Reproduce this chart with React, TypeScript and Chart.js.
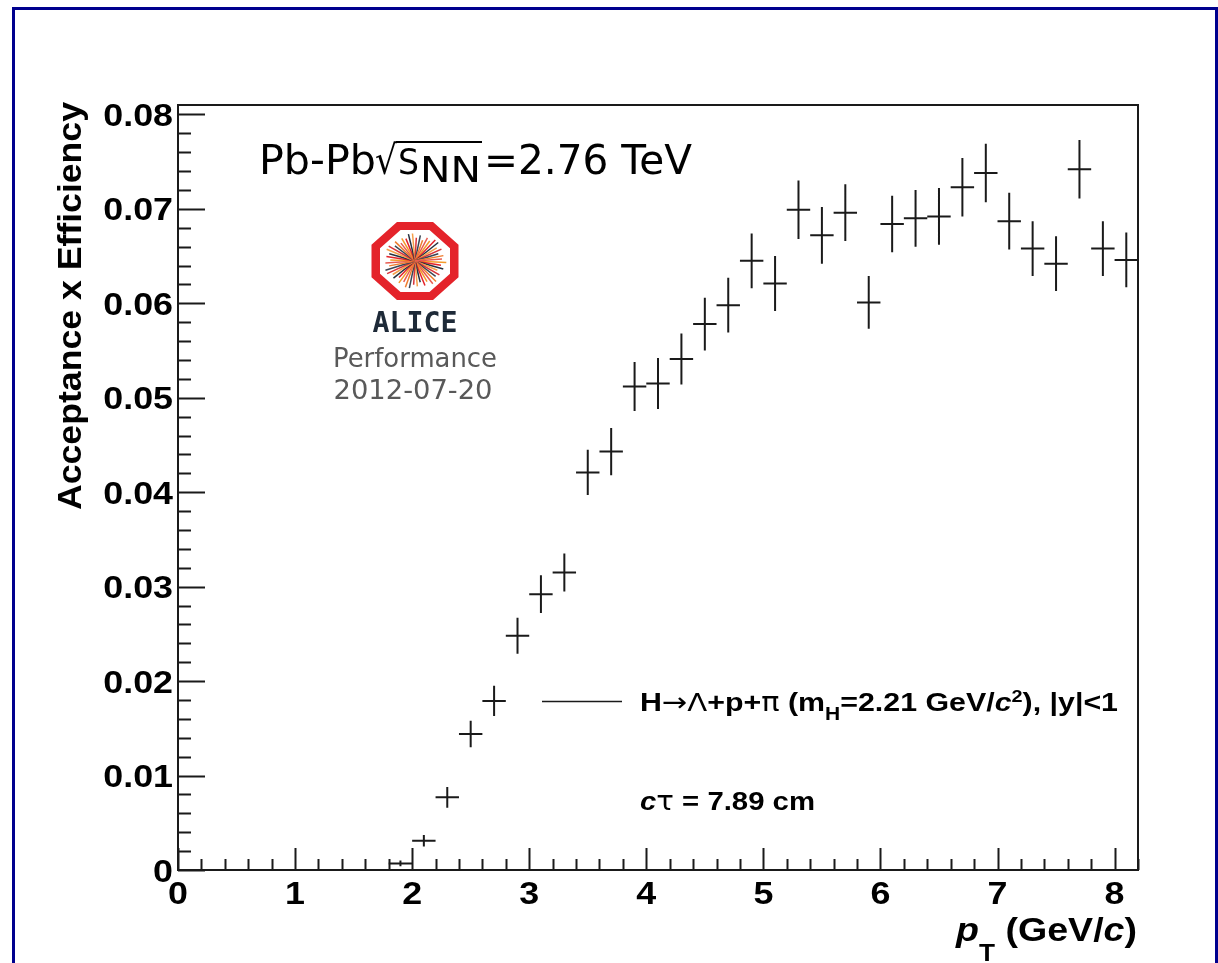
import React, { useEffect, useRef } from 'react';
import { Chart, registerables } from 'chart.js';

Chart.register(...registerables);

// ---------------- data ----------------
const ptCenters = [
  1.9, 2.1, 2.3, 2.5, 2.7, 2.9, 3.1, 3.3, 3.5, 3.7, 3.9, 4.1, 4.3, 4.5, 4.7, 4.9,
  5.1, 5.3, 5.5, 5.7, 5.9, 6.1, 6.3, 6.5, 6.7, 6.9, 7.1, 7.3, 7.5, 7.7, 7.9, 8.1,
];
const ptHalfWidths = [
  0.1, 0.1, 0.1, 0.1, 0.1, 0.1, 0.1, 0.1, 0.1, 0.1, 0.1, 0.1, 0.1, 0.1, 0.1, 0.1,
  0.1, 0.1, 0.1, 0.1, 0.1, 0.1, 0.1, 0.1, 0.1, 0.1, 0.1, 0.1, 0.1, 0.1, 0.1, 0.1,
];
const accEff = [
  0.0007, 0.0031, 0.0077, 0.0144, 0.0179, 0.0248, 0.0292, 0.0315, 0.0421, 0.0443,
  0.0512, 0.0515, 0.0541, 0.0578, 0.0598, 0.0645, 0.0621, 0.0699, 0.0672, 0.0696,
  0.0601, 0.0684, 0.069, 0.0692, 0.0723, 0.0738, 0.0687, 0.0658, 0.0642, 0.0742,
  0.0658, 0.0646,
];
const accEffErr = [
  0.0003, 0.0006, 0.0011, 0.0014, 0.0016, 0.0019, 0.002, 0.002, 0.0024, 0.0025,
  0.0026, 0.0027, 0.0027, 0.0028, 0.0029, 0.0029, 0.0029, 0.0031, 0.003, 0.003,
  0.0028, 0.003, 0.003, 0.003, 0.0031, 0.0031, 0.003, 0.0029, 0.0029, 0.0031,
  0.0029, 0.0029,
];
const xTickLabels = ['0', '1', '2', '3', '4', '5', '6', '7', '8'];
const yTickLabels = ['0', '0.01', '0.02', '0.03', '0.04', '0.05', '0.06', '0.07', '0.08'];
const xRange = [0, 8.2];
const yRange = [0, 0.081];
const xMinorStep = 0.2;
const yMinorStep = 0.002;

// ---------------- helpers ----------------
const SANS = '"Liberation Sans", Arial, Helvetica, sans-serif';
const DEJAVU = '"DejaVu Sans", "Noto Sans", sans-serif';

type Seg = { t: string; font: string; dy?: number; color?: string };

function drawRich(
  ctx: CanvasRenderingContext2D,
  segs: Seg[],
  x: number,
  y: number,
  opts: { align?: 'left' | 'right' | 'center'; width?: number; sx?: number; rotate?: number; color?: string } = {}
) {
  ctx.save();
  ctx.translate(x, y);
  if (opts.rotate) ctx.rotate(opts.rotate);
  let w = 0;
  const widths: number[] = [];
  for (const s of segs) {
    ctx.font = s.font;
    const m = ctx.measureText(s.t).width;
    widths.push(m);
    w += m;
  }
  const sx = opts.width ? opts.width / w : opts.sx ?? 1;
  ctx.scale(sx, 1);
  let cx = opts.align === 'right' ? -w : opts.align === 'center' ? -w / 2 : 0;
  ctx.textAlign = 'left';
  ctx.textBaseline = 'alphabetic';
  segs.forEach((s, i) => {
    ctx.font = s.font;
    ctx.fillStyle = s.color ?? opts.color ?? '#000';
    ctx.fillText(s.t, cx, s.dy ?? 0);
    cx += widths[i];
  });
  ctx.restore();
}

function drawLogo(ctx: CanvasRenderingContext2D, cx: number, cy: number) {
  const oct = (rx: number, ry: number) => {
    const pts: [number, number][] = [];
    for (let k = 0; k < 8; k++) {
      const a = Math.PI / 8 + (k * Math.PI) / 4;
      pts.push([cx + (rx / Math.cos(Math.PI / 8)) * Math.cos(a), cy + (ry / Math.cos(Math.PI / 8)) * Math.sin(a)]);
    }
    return pts;
  };
  const outer = oct(43.5, 39);
  const inner = oct(35, 31);
  ctx.save();
  ctx.beginPath();
  outer.forEach(([px, py], i) => (i ? ctx.lineTo(px, py) : ctx.moveTo(px, py)));
  ctx.closePath();
  inner.forEach(([px, py], i) => (i ? ctx.lineTo(px, py) : ctx.moveTo(px, py)));
  ctx.closePath();
  ctx.fillStyle = '#e4232a';
  ctx.fill('evenodd');
  ctx.beginPath();
  inner.forEach(([px, py], i) => (i ? ctx.lineTo(px, py) : ctx.moveTo(px, py)));
  ctx.closePath();
  ctx.clip();
  const colors = ['#f39a2b', '#e4232a', '#26313f', '#f5a04a', '#d8343a', '#3a4654', '#ee7d2f', '#e85a4f'];
  const lens = [0.95, 0.8, 0.9, 0.75, 0.88, 0.82, 0.95];
  ctx.lineWidth = 1.5;
  for (let k = 0; k < 48; k++) {
    const a = (k / 48) * Math.PI * 2 + 0.05;
    const l = lens[k % lens.length];
    ctx.strokeStyle = colors[k % colors.length];
    ctx.beginPath();
    ctx.moveTo(cx, cy);
    ctx.lineTo(cx + Math.cos(a) * 33 * l, cy + Math.sin(a) * 29 * l);
    ctx.stroke();
  }
  ctx.restore();
}

const decorPlugin = {
  id: 'rootDecor',
  beforeDraw(chart: any) {
    const ctx: CanvasRenderingContext2D = chart.ctx;
    ctx.save();
    ctx.fillStyle = '#ffffff';
    ctx.fillRect(0, 0, chart.width, chart.height);
    ctx.fillStyle = '#00008e';
    ctx.fillRect(12, 7, 3, chart.height - 7);
    ctx.fillRect(12, 7, chart.width - 12, 3);
    ctx.fillRect(chart.width - 3, 7, 3, chart.height - 7);
    ctx.restore();
  },
  afterDraw(chart: any) {
    const ctx: CanvasRenderingContext2D = chart.ctx;
    const { left, right, top, bottom } = chart.chartArea;
    const xs = chart.scales.x;
    const ys = chart.scales.y;
    ctx.save();
    ctx.strokeStyle = '#1a1a1a';
    ctx.lineWidth = 2;
    ctx.strokeRect(left, top, right - left, bottom - top);
    ctx.beginPath();
    for (let v = yRange[0]; v <= yRange[1] + 1e-9; v += yMinorStep) {
      const py = Math.round(ys.getPixelForValue(v)) + 0.5;
      ctx.moveTo(left, py);
      ctx.lineTo(left + 13, py);
    }
    for (let v = xRange[0]; v <= xRange[1] + 1e-9; v += xMinorStep) {
      const px = Math.round(xs.getPixelForValue(v)) + 0.5;
      ctx.moveTo(px, bottom);
      ctx.lineTo(px, bottom - 11);
    }
    yTickLabels.forEach((l) => {
      const py = Math.round(ys.getPixelForValue(parseFloat(l))) + 0.5;
      ctx.moveTo(left, py);
      ctx.lineTo(left + 27, py);
    });
    xTickLabels.forEach((l) => {
      const px = Math.round(xs.getPixelForValue(parseFloat(l))) + 0.5;
      ctx.moveTo(px, bottom);
      ctx.lineTo(px, bottom - 22);
    });
    ctx.stroke();

    const tickFont = `bold 32px ${SANS}`;
    yTickLabels.forEach((l) => {
      const py = ys.getPixelForValue(parseFloat(l));
      drawRich(ctx, [{ t: l, font: tickFont }], left - 5, py + 11.5, { align: 'right', sx: 1.12 });
    });
    xTickLabels.forEach((l) => {
      const px = xs.getPixelForValue(parseFloat(l));
      drawRich(ctx, [{ t: l, font: tickFont }], px, bottom + 34, { align: 'center', sx: 1.12 });
    });

    const tf = `bold 33px ${SANS}`;
    drawRich(ctx, [{ t: 'Acceptance x Efficiency', font: tf }], 81, 510, {
      align: 'left',
      width: 408,
      rotate: -Math.PI / 2,
    });
    drawRich(
      ctx,
      [
        { t: 'p', font: `italic bold 33px ${SANS}` },
        { t: 'T', font: `bold 23px ${SANS}`, dy: 20 },
        { t: ' (GeV/', font: tf },
        { t: 'c', font: `italic bold 33px ${SANS}` },
        { t: ')', font: tf },
      ],
      1137,
      941,
      { align: 'right', width: 181 }
    );

    const pf = `40px ${DEJAVU}`;
    drawRich(ctx, [{ t: 'Pb-Pb', font: pf }], 259, 174, { width: 117 });
    drawRich(ctx, [{ t: '\u221A', font: pf }], 375, 174, { width: 22 });
    ctx.fillStyle = '#000';
    ctx.fillRect(396, 141, 86, 2);
    drawRich(ctx, [{ t: 'S', font: `35px ${DEJAVU}` }], 398, 174, { width: 21 });
    drawRich(ctx, [{ t: 'NN', font: `36px ${DEJAVU}` }], 420, 182, { width: 61 });
    drawRich(ctx, [{ t: '=2.76 TeV', font: pf }], 484, 174, { width: 208 });

    drawLogo(ctx, 415, 261);
    drawRich(ctx, [{ t: 'ALICE', font: `bold 29px "DejaVu Sans Mono", monospace` }], 415, 332, {
      align: 'center',
      width: 85,
      color: '#1e2a38',
    });
    drawRich(ctx, [{ t: 'Performance', font: `27px ${DEJAVU}` }], 415, 367, {
      align: 'center',
      width: 164,
      color: '#595959',
    });
    drawRich(ctx, [{ t: '2012-07-20', font: `27px ${DEJAVU}` }], 413, 399, {
      align: 'center',
      width: 159,
      color: '#595959',
    });

    ctx.strokeStyle = '#1a1a1a';
    ctx.lineWidth = 1.5;
    ctx.beginPath();
    ctx.moveTo(542, 701.5);
    ctx.lineTo(622, 701.5);
    ctx.stroke();
    const lb = `bold 26px ${SANS}`;
    const lsym = `26px ${DEJAVU}`;
    drawRich(
      ctx,
      [
        { t: 'H', font: lb },
        { t: '\u2192', font: lsym },
        { t: '\u039B', font: `25px ${DEJAVU}` },
        { t: '+p+', font: lb },
        { t: '\u03C0', font: lsym },
        { t: ' (m', font: lb },
        { t: 'H', font: `bold 18px ${SANS}`, dy: 9 },
        { t: '=2.21 GeV/', font: lb },
        { t: 'c', font: `italic bold 26px ${SANS}` },
        { t: '2', font: `bold 17px ${SANS}`, dy: -9 },
        { t: '), |y|<1', font: lb },
      ],
      640,
      711,
      { width: 478 }
    );
    drawRich(
      ctx,
      [
        { t: 'c', font: `italic bold 26px ${SANS}` },
        { t: '\u03C4', font: lsym },
        { t: ' = 7.89 cm', font: lb },
      ],
      640,
      810,
      { width: 175 }
    );
    ctx.restore();
  },
};

export default function App() {
  const ref = useRef<HTMLCanvasElement | null>(null);
  useEffect(() => {
    if (!ref.current) return;
    const hData: any[] = [];
    const vData: any[] = [];
    ptCenters.forEach((x, i) => {
      const y = accEff[i];
      const dx = ptHalfWidths[i];
      const dy = accEffErr[i];
      hData.push({ x: x - dx, y }, { x: x + dx, y }, { x: x + dx, y: null });
      vData.push({ x, y: y - dy }, { x, y: y + dy }, { x, y: null });
    });
    const chart = new Chart(ref.current, {
      type: 'scatter',
      data: {
        datasets: [
          {
            label: 'H\u2192\u039B+p+\u03C0 (bin width)',
            data: hData,
            showLine: true,
            spanGaps: false,
            borderColor: '#1a1a1a',
            borderWidth: 2,
            pointRadius: 0,
            fill: false,
          },
          {
            label: 'H\u2192\u039B+p+\u03C0 (error)',
            data: vData,
            showLine: true,
            spanGaps: false,
            borderColor: '#1a1a1a',
            borderWidth: 2,
            pointRadius: 0,
            fill: false,
          },
        ],
      },
      options: {
        animation: false,
        responsive: false,
        devicePixelRatio: 1,
        layout: { padding: { left: 178, top: 105, right: 80, bottom: 93 } },
        plugins: { legend: { display: false }, tooltip: { enabled: false } },
        scales: {
          x: { type: 'linear', min: xRange[0], max: xRange[1], display: false },
          y: { type: 'linear', min: yRange[0], max: yRange[1], display: false },
        },
      },
      plugins: [decorPlugin],
    } as any);
    return () => chart.destroy();
  }, []);
  return (
    <div style={{ position: 'absolute', left: 0, top: 0, width: 1218, height: 963, background: '#fff' }}>
      <canvas ref={ref} width={1218} height={963} style={{ display: 'block' }} />
    </div>
  );
}
